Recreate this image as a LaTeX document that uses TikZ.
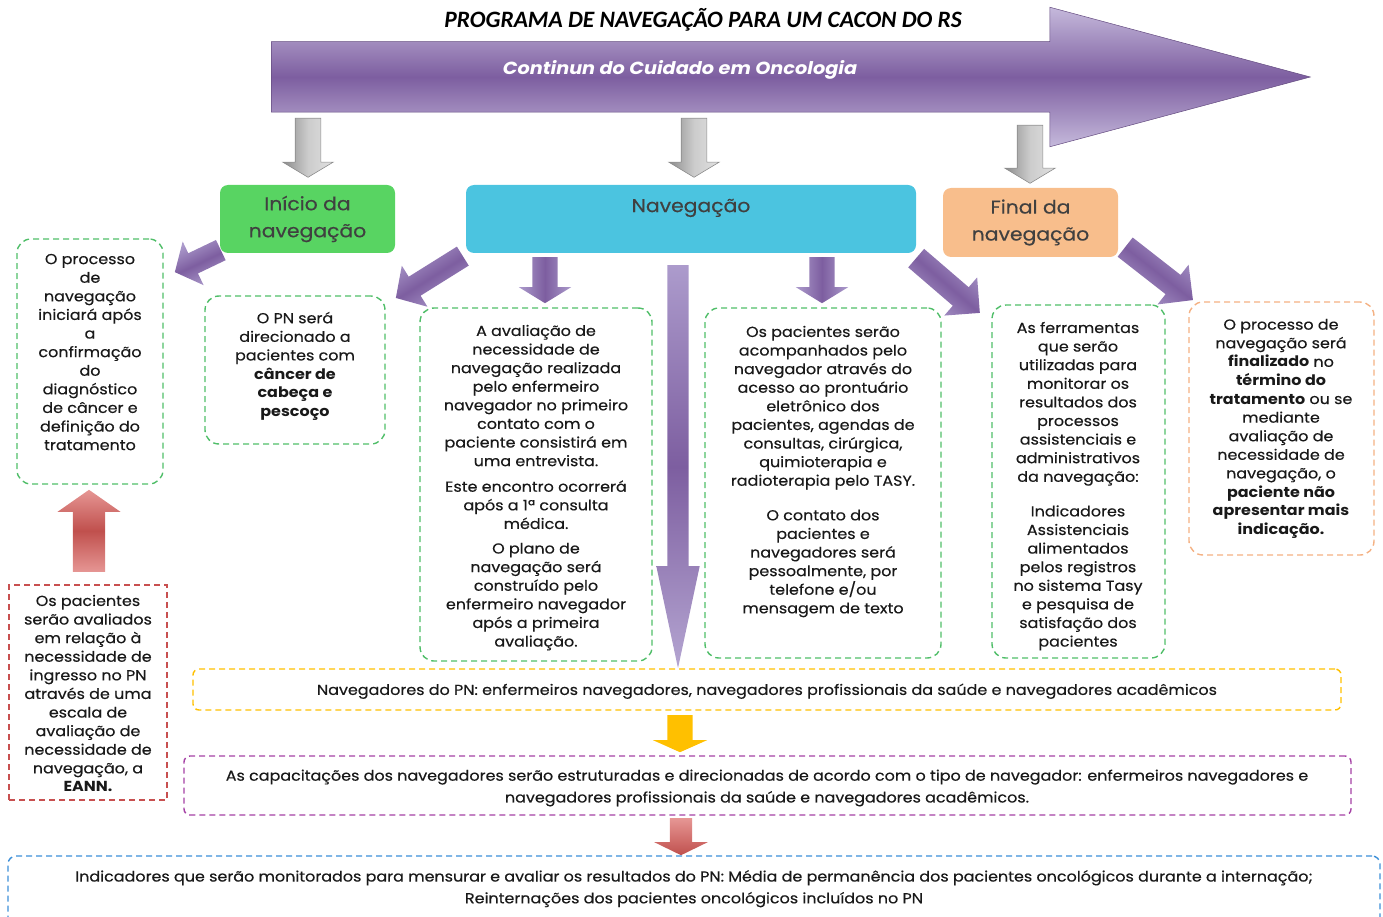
\documentclass[tikz,border=0pt]{standalone}
\usepackage{fontspec}
\setmainfont{Poppins}[FakeStretch=1.1, UprightFeatures={FakeBold=0.4}]
\newfontfamily\titulofont{Carlito}
\usetikzlibrary{shapes.arrows,fit}
\definecolor{verdeCab}{RGB}{88,212,98}
\definecolor{azulCab}{RGB}{75,196,224}
\definecolor{laranjaCab}{RGB}{248,190,140}
\definecolor{cinzaTexto}{RGB}{64,64,64}
\definecolor{roxo}{RGB}{125,94,160}
\definecolor{roxoClaro}{RGB}{172,155,204}
\definecolor{verdeTr}{RGB}{80,190,105}
\definecolor{laranjaTr}{RGB}{244,177,131}
\definecolor{vermelhoTr}{RGB}{200,80,80}
\definecolor{amareloTr}{RGB}{255,192,0}
\definecolor{roxoTr}{RGB}{165,65,165}
\definecolor{azulTr}{RGB}{60,143,216}
\definecolor{cinzaClaro}{RGB}{225,225,225}
\definecolor{cinzaEsc}{RGB}{140,140,140}
\definecolor{vermelhoSeta}{RGB}{192,80,77}
\definecolor{vermelhoClaro}{RGB}{230,150,148}
\tikzset{
  caixa/.style={draw=#1, dash pattern=on 6pt off 4pt, line width=1.4pt, rounded corners=14pt, inner sep=0pt},
  texto/.style={align=center, anchor=north, inner sep=0pt, text=black!90, font=\fontsize{14.5}{18.6}\selectfont, execute at begin node=\strut},
  textolargo/.style={texto, font=\fontsize{14.5}{21.8}\selectfont},
  cabec/.style={rounded corners=8pt, align=center, text=cinzaTexto, font=\fontsize{18.5}{27}\selectfont\addfontfeature{FakeBold=1.2}},
  bloco/.style n args={4}{single arrow, anchor=tail, inner xsep=0pt, inner ysep={0.5*#1pt}, single arrow head extend={0.5*(#2pt-#1pt)}, single arrow tip angle=#3, minimum height=#4pt},
  setaroxa/.style={top color=roxoClaro, bottom color=roxoClaro, middle color=roxo, shading angle=#1},
  setacinza/.style={draw=cinzaEsc, line width=0.6pt, top color=cinzaClaro, bottom color=cinzaEsc, middle color=gray!40, shading angle=-90}
}
\begin{document}
\begin{tikzpicture}[x=1pt,y=-1pt]
\useasboundingbox (0,0) rectangle (1383,917);
\node[font=\titulofont\fontsize{23.5}{27}\selectfont\bfseries\itshape] (titulo) at (703,20) {PROGRAMA DE NAVEGAÇÃO PARA UM CACON DO RS};
\node[single arrow, anchor=tail, inner xsep=0pt, inner ysep=35pt, single arrow head extend=34.5pt, single arrow tip angle=30, minimum height=1039pt, draw=roxo!80!black, line width=0.5pt, top color=roxoClaro!70!white, bottom color=roxoClaro!70!white, middle color=roxo] (continuo) at (271,77) {};
\node[text=white, font=\fontsize{17.5}{20}\selectfont\bfseries\itshape] (contTxt) at (680,70) {Continun do Cuidado em Oncologia};

\node[bloco={25}{50}{118}{59}, setacinza, rotate=-90] (g1) at (308,118) {};
\node[bloco={25}{50}{118}{59}, setacinza, rotate=-90] (g2) at (694,118) {};
\node[bloco={25}{50}{118}{58}, setacinza, rotate=-90] (g3) at (1030,125) {};

\node[cabec, fill=verdeCab, minimum width=175pt, minimum height=68pt] (inicio) at (307.5,219) {Início da\\navegação};
\node[cabec, fill=azulCab, minimum width=450pt, minimum height=68pt] (naveg) at (691,219) {Navegação\\~};
\node[cabec, fill=laranjaCab, minimum width=175pt, minimum height=69pt] (final) at (1030.5,222.5) {Final da\\navegação};

\node[caixa=verdeTr, fit={(17,239) (163,484)}] (caixaA) {};
\node[caixa=verdeTr, fit={(205,296) (385,444)}] (caixaB) {};
\node[caixa=verdeTr, fit={(420,308) (652,661)}] (caixaC) {};
\node[caixa=verdeTr, fit={(705,308) (941,658)}] (caixaD) {};
\node[caixa=verdeTr, fit={(992,305) (1165,658)}] (caixaE) {};
\node[caixa=laranjaTr, fit={(1189,302) (1374,555)}] (caixaF) {};
\node[caixa=vermelhoTr, rounded corners=0pt, fit={(9,585) (167,800)}] (caixaG) {};
\node[caixa=amareloTr, rounded corners=6pt, fit={(193,669) (1341,710)}] (caixaH) {};
\node[caixa=roxoTr, rounded corners=6pt, fit={(184,756) (1351,815)}] (caixaI) {};
\node[caixa=azulTr, rounded corners=8pt, fit={(8,856) (1380,930)}] (caixaJ) {};

\node[texto] (txtA) at (90,253.7) {O processo\\de\\navegação\\iniciará após\\a\\confirmação\\do\\diagnóstico\\de câncer e\\definição do\\tratamento};
\node[texto] (txtB) at (295,311.7) {O PN será\\direcionado a\\pacientes com\\\textbf{câncer de}\\\textbf{cabeça e}\\\textbf{pescoço}};
\node[texto] (txtC) at (536,324.7) {A avaliação de\\necessidade de\\navegação realizada\\pelo enfermeiro\\navegador no primeiro\\contato com o\\paciente consistirá em\\uma entrevista.\\[7pt]Este encontro ocorrerá\\após a 1ª consulta\\médica.\\[6pt]O plano de\\navegação será\\construído pelo\\enfermeiro navegador\\após a primeira\\avaliação.};
\node[texto] (txtD) at (823,325.7) {Os pacientes serão\\acompanhados pelo\\navegador através do\\acesso ao prontuário\\eletrônico dos\\pacientes, agendas de\\consultas, cirúrgica,\\quimioterapia e\\radioterapia pelo TASY.\\[16pt]O contato dos\\pacientes e\\navegadores será\\pessoalmente, por\\telefone e/ou\\mensagem de texto};
\node[texto] (txtE) at (1078,321.7) {As ferramentas\\que serão\\utilizadas para\\monitorar os\\resultados dos\\processos\\assistenciais e\\administrativos\\da navegação:\\[16pt]Indicadores\\Assistenciais\\alimentados\\pelos registros\\no sistema Tasy\\e pesquisa de\\satisfação dos\\pacientes};
\node[texto] (txtF) at (1281,318.7) {O processo de\\navegação será\\\textbf{finalizado} no\\\textbf{término do}\\\textbf{tratamento} ou se\\mediante\\avaliação de\\necessidade de\\navegação, o\\\textbf{paciente não}\\\textbf{apresentar mais}\\\textbf{indicação.}};
\node[texto] (txtG) at (88,594.7) {Os pacientes\\serão avaliados\\em relação à\\necessidade de\\ingresso no PN\\através de uma\\escala de\\avaliação de\\necessidade de\\navegação, a\\\textbf{EANN.}};
\node[texto] (txtH) at (767,681.7) {Navegadores do PN: enfermeiros navegadores, navegadores profissionais da saúde e navegadores acadêmicos};
\node[textolargo] (txtI) at (767,769.4) {As capacitações dos navegadores serão estruturadas e direcionadas de acordo com o tipo de navegador: enfermeiros navegadores e\\navegadores profissionais da saúde e navegadores acadêmicos.};
\node[textolargo] (txtJ) at (694,869.9) {Indicadores que serão monitorados para mensurar e avaliar os resultados do PN: Média de permanência dos pacientes oncológicos durante a internação;\\Reinternações dos pacientes oncológicos incluídos no PN};

\node[bloco={22}{48}{100}{51}, setaroxa=205.6, rotate=205.6] (p1) at (221,250) {};
\node[bloco={22}{48}{95}{79}, setaroxa=212, rotate=212] (p2) at (463,256) {};
\node[bloco={25}{52}{117}{46}, setaroxa=-90, rotate=-90] (p3) at (545,257) {};
\node[bloco={21}{43}{24}{403}, rotate=-90, top color=roxoClaro, bottom color=roxoClaro!90!white, middle color=roxo] (p4) at (678,265) {};
\node[bloco={25}{52}{117}{46}, setaroxa=-90, rotate=-90] (p5) at (822,257) {};
\node[bloco={24}{50}{90}{84}, setaroxa=-40.7, rotate=-40.7] (p6) at (916,258) {};
\node[bloco={24}{50}{90}{86}, setaroxa=-38, rotate=-38] (p7) at (1125,247) {};

\node[bloco={32}{63}{110}{82}, rotate=90, top color=vermelhoClaro, bottom color=vermelhoClaro, middle color=vermelhoSeta] (r1) at (89,572) {};
\node[bloco={25}{54}{132}{37}, rotate=-90, fill=amareloTr] (y1) at (680,715) {};
\node[bloco={22}{53}{128}{37}, rotate=-90, top color=vermelhoClaro, bottom color=vermelhoSeta] (r2) at (681,818) {};
\end{tikzpicture}
\end{document}
